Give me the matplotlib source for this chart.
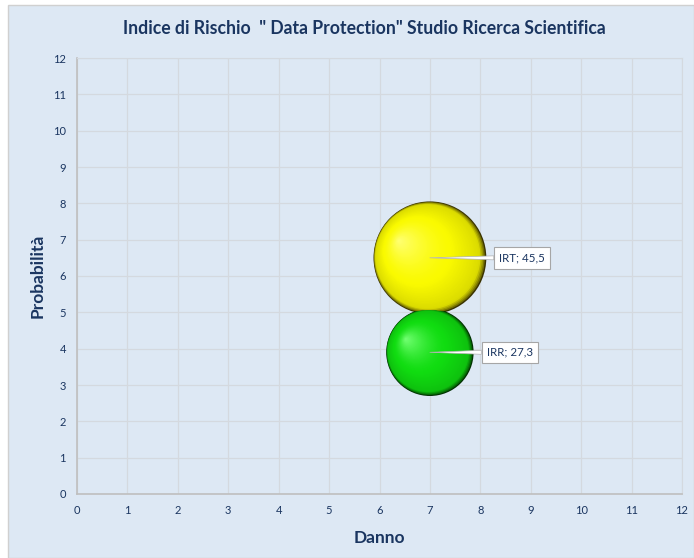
import matplotlib
matplotlib.use("Agg")
import matplotlib.pyplot as plt
import matplotlib.patches as mpatches
from matplotlib.transforms import offset_copy
import numpy as np
from matplotlib.colors import to_rgb

plt.rcParams['font.family'] = ['Lato', 'DejaVu Sans']

# Data
names = ["IRT", "IRR"]
danno = [7, 7]
probabilita = [6.5, 3.9]
indice = [45.5, 27.3]
base_colors = ["#fafa00", "#10dc10"]
light_colors = ["#ffff70", "#70ff70"]
dark_colors = ["#3a3300", "#003000"]
x_ticks = list(range(0, 13))
y_ticks = list(range(0, 13))

NAVY = "#1a3560"
BG = "#dde8f4"

fig = plt.figure(figsize=(6.94, 5.58), dpi=100)
fig.patch.set_facecolor("white")
fig.patches.append(mpatches.Rectangle((8/694, 0), 1 - 8/694, 1 - 5/558,
                                      transform=fig.transFigure, facecolor=BG,
                                      edgecolor="#d0d0d0", linewidth=1.0, zorder=-5))

ax = fig.add_axes([77/694, 64/558, (682-77)/694, (494-58)/558])
ax.set_facecolor(BG)
ax.set_xlim(0, 12)
ax.set_ylim(0, 12)
ax.set_xticks(x_ticks)
ax.set_yticks(y_ticks)
ax.grid(True, color="#d4d9df", linewidth=0.9)
ax.set_axisbelow(True)
for sp in ["top", "right"]:
    ax.spines[sp].set_color("#d4d9df")
for sp in ["left", "bottom"]:
    ax.spines[sp].set_color("#bfbfbf")
    ax.spines[sp].set_linewidth(1.2)
ax.tick_params(length=0, labelsize=8, labelcolor=NAVY, pad=8)

ax.set_xlabel("Danno", fontsize=12.5, fontweight="bold", color=NAVY, labelpad=10)
ax.set_ylabel("Probabilità", fontsize=12.5, fontweight="bold", color=NAVY, labelpad=5)
fig.text(364/694, 1 - 28/558, 'Indice di Rischio  " Data Protection" Studio Ricerca Scientifica',
         ha="center", va="center", fontsize=12.7, fontweight="bold", color=NAVY)

scale = 145.0
N = 60
for x, y, v, base, light, dark in zip(danno, probabilita, indice, base_colors, light_colors, dark_colors):
    s = v * scale
    r_pt = np.sqrt(s) / 2.0
    cb, cl, cd = np.array(to_rgb(base)), np.array(to_rgb(light)), np.array(to_rgb(dark))
    cm = cb * 0.88
    for i in range(N):
        t = i / (N - 1)  # 0 outer -> 1 inner
        frac = 1 - t * 0.98
        if t < 0.07:
            c = cd + (cm - cd) * (t / 0.07) ** 0.7
        elif t < 0.4:
            c = cm + (cb - cm) * ((t - 0.07) / 0.33)
        else:
            c = cb + (cl - cb) * ((t - 0.4) / 0.6) ** 1.5
        tr = offset_copy(ax.transData, fig=fig, x=-r_pt * t * 0.55, y=r_pt * t * 0.3, units="points")
        ax.scatter([x], [y], s=s * frac ** 2, color=np.clip(c, 0, 1), edgecolors="none",
                   transform=tr, zorder=3 + i * 0.01)

label_offsets = [50, 41]
for x, y, v, n, dx in zip(danno, probabilita, indice, names, label_offsets):
    ax.annotate(f"{n}; {str(v).replace('.', ',')}", xy=(x, y), xytext=(dx, 0),
                textcoords="offset points", ha="left", va="center", fontsize=8.3, color=NAVY,
                bbox=dict(boxstyle="square,pad=0.45", facecolor="white", edgecolor="#a6a6a6", linewidth=0.8),
                arrowprops=dict(arrowstyle="wedge,tail_width=0.35", facecolor="white",
                                edgecolor="#b0b0b0", linewidth=0.5, shrinkA=0, shrinkB=0),
                zorder=10)

fig.savefig("out.png", dpi=100, facecolor=fig.get_facecolor())
